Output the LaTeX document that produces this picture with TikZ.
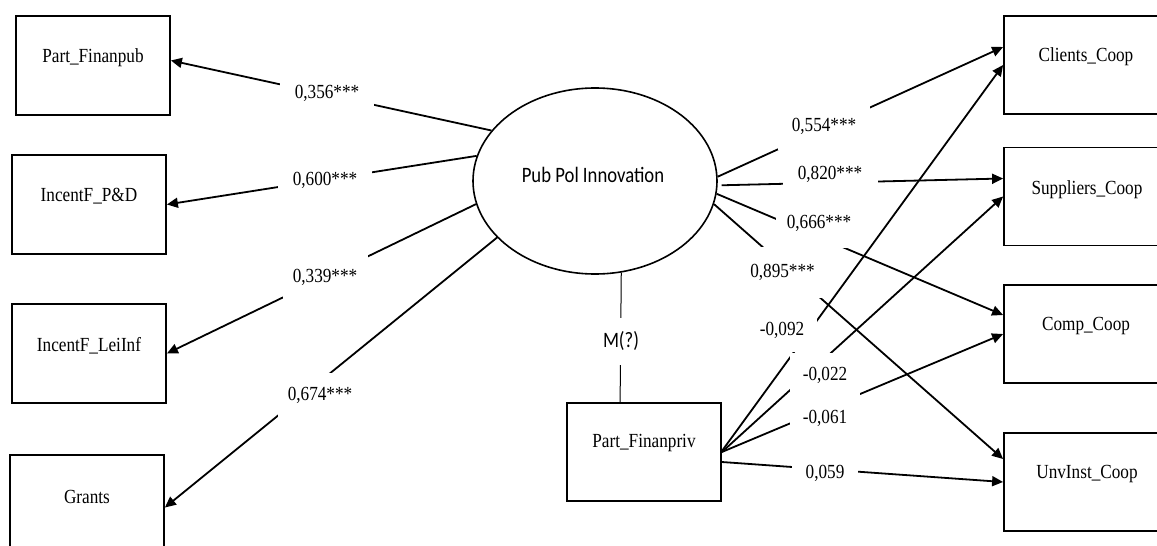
\documentclass[tikz,border=0pt]{standalone}
\usepackage{fontspec}
\setmainfont{Liberation Serif}[FakeStretch=0.86]
\newfontfamily\diagsans{Carlito}[FakeStretch=0.85]
\usetikzlibrary{arrows.meta,calc,shapes.geometric}
\newcommand\serifsz{\fontsize{20pt}{24pt}\selectfont}
\newcommand\sanssz{\diagsans\fontsize{22pt}{26pt}\selectfont}

\begin{document}
\begin{tikzpicture}[x=1pt,y=-1pt,
  box/.style={draw, line width=1.8pt, minimum width=154pt, minimum height=99pt, inner sep=0pt},
  rbox/.style={draw, line width=1.8pt, minimum width=166pt, minimum height=98pt, inner sep=0pt},
  txt/.style={font=\serifsz, inner sep=0pt},
  arr/.style={line width=1.8pt, -{Triangle[length=11pt,width=10pt]}},
  lbl/.style={fill=white, inner sep=0pt, minimum height=44pt, font=\serifsz},
  link/.style={line width=1pt}]

\clip (0,0) rectangle (1157,546);
\fill[white] (0,0) rectangle (1157,546);

% latent construct
\node[ellipse, draw, line width=1.6pt, minimum width=244pt, minimum height=186pt, inner sep=0pt] (pubpol) at (595,181) {};
\node[font=\sanssz, inner sep=0pt] (tpubpol) at (593,175) {Pub Pol Innovation};

% indicators on the left
\node[box] (pfpub)  at (93,65.5)  {};
\node[box] (pdbox)  at (89,204.5) {};
\node[box] (leiinf) at (89,353.5) {};
\node[box] (grants) at (87,504.5) {};
\node[txt] (tpfpub)  at ($(pfpub.center)+(0,-8)$)  {Part\_Finanpub};
\node[txt] (tpdbox)  at ($(pdbox.center)+(0,-8)$)  {IncentF\_P\&D};
\node[txt] (tleiinf) at ($(leiinf.center)+(0,-8)$) {IncentF\_LeiInf};
\node[txt] (tgrants) at ($(grants.center)+(0,-8)$) {Grants};

% moderator
\node[box, minimum height=98pt] (ppriv) at (644,452) {};
\node[txt] (tppriv) at ($(ppriv.center)+(0,-9)$) {Part\_Finanpriv};

% cooperation outcomes on the right
\node[rbox] (clients)   at (1087,65)    {};
\node[rbox] (suppliers) at (1087,196.5) {};
\node[rbox] (comp)      at (1087,334)   {};
\node[rbox] (unvinst)   at (1087,482)   {};
\node[txt] (tclients)   at ($(clients.center)+(-1,-8)$)   {Clients\_Coop};
\node[txt] (tsuppliers) at ($(suppliers.center)+(0,-7)$)  {Suppliers\_Coop};
\node[txt] (tcomp)      at ($(comp.center)+(-1,-8)$)      {Comp\_Coop};
\node[txt] (tunvinst)   at ($(unvinst.center)+(0,-8)$)    {UnvInst\_Coop};

% loadings to the left
\draw[arr] (pubpol.154.5) -- ($(pfpub.east)+(0,-5)$);
\draw[arr] (pubpol.168)   -- (pdbox.east);
\draw[arr] (pubpol.191)   -- (leiinf.east);
\draw[arr] (pubpol.210)   -- ($(grants.east)+(0,3)$);

% paths to the right
\draw[arr] (pubpol.2)   -- ($(clients.west)+(0,-18)$);
\draw[arr] ($(pubpol.-2)+(4,0)$) -- ($(suppliers.west)+(0,-18)$);
\draw[arr] (pubpol.-6)  -- ($(comp.west)+(0,-19)$);
\draw[arr] (pubpol.-11) -- ($(unvinst.west)+(0,-23)$);

% paths from the moderator
\draw[arr] ($(ppriv.east)+(0,-1)$) -- (clients.west);
\draw[arr] (ppriv.east) -- (suppliers.west);
\draw[arr] (ppriv.east) -- (comp.west);
\draw[arr] ($(ppriv.east)+(0,10)$) -- (unvinst.west);

% moderation link
\draw[link] (pubpol.-74) -- ($(ppriv.north west)+(54,0)$);

% coefficient labels
\node[lbl, minimum width=94pt] (c356) at (327,93)  {0,356***};
\node[lbl, minimum width=94pt] (c600) at (325,180) {0,600***};
\node[lbl, minimum width=85pt] (c339) at (325,277) {0,339***};
\node[lbl, minimum width=85pt] (c674) at (320,395) {0,674***};

\node[lbl, minimum width=92pt, minimum height=48pt] (c554) at (824,126) {0,554***};
\node[lbl, minimum width=95pt] (c820) at (830,174) {0,820***};
\node[lbl, minimum width=86pt, minimum height=50pt] (c666) at (819,223) {\raisebox{2pt}{0,666***}};
\node[lbl, minimum width=87pt, minimum height=51pt] (c895) at (782.5,272.5) {0,895***};

\node[lbl, minimum width=70pt] (c092) at (782,330) {-0,092};
\node[lbl, minimum width=70pt] (c022) at (825,375) {-0,022};
\node[lbl, minimum width=70pt, minimum height=43pt] (c061) at (825,418.5) {-0,061};
\node[lbl, minimum width=66pt] (c059) at (825,473) {0,059};

\node[fill=white, inner sep=0pt, minimum width=40pt, minimum height=47pt, font=\sanssz] (mlabel) at (621,341) {M(?)};

\end{tikzpicture}
\end{document}
